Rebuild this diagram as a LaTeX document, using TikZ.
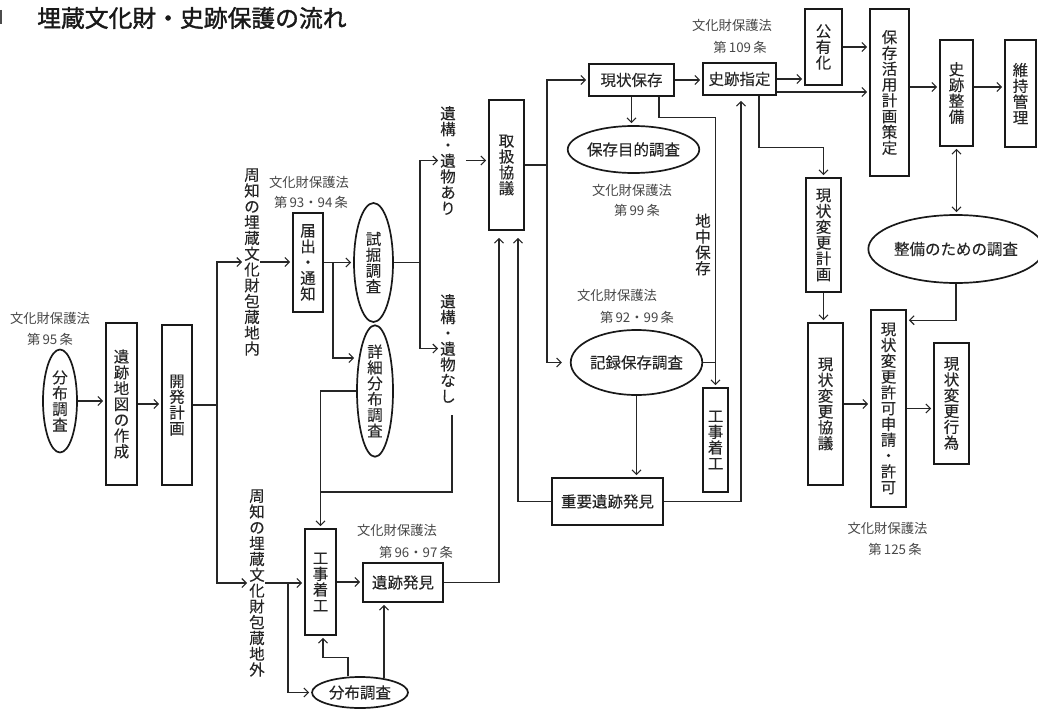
\documentclass[tikz,border=0pt]{standalone}
\usepackage{fontspec}
\usetikzlibrary{shapes.geometric,arrows.meta,calc}
\newfontfamily\cjk[FakeBold=0.12]{Noto Sans CJK JP}
\newfontfamily\cjkl{Noto Sans CJK JP}
\newfontfamily\cjkb[FakeBold=1.5]{Noto Sans CJK JP}
\makeatletter
\def\vt@end{\vt@end@}
\def\vt#1{\vbox{\baselineskip=15.8pt\lineskiplimit=-20pt\lineskip=0pt\vt@loop#1\vt@end}}
\def\vt@loop#1{\ifx\vt@end#1\else\hbox to 1em{\hss#1\hss}\expandafter\vt@loop\fi}
\makeatother
\begin{document}
\begin{tikzpicture}[x=1pt,y=-1pt,
  box/.style={draw=black!90, line width=1.7pt, rectangle, inner sep=0pt, font=\cjk\fontsize{15.5}{15.8}\selectfont, text=black!85},
  ell/.style={draw=black!90, line width=1.7pt, ellipse, inner sep=0pt, font=\cjk\fontsize{15.5}{15.8}\selectfont, text=black!85},
  lab/.style={inner sep=0pt, font=\cjk\fontsize{15.5}{15.8}\selectfont, text=black!85},
  law/.style={inner sep=0pt, font=\cjkl\fontsize{13.3}{14}\selectfont, text=black!72},
  ln/.style={draw=black!85, line width=1.1pt},
  arr/.style={ln, -{Straight Barb[length=4.5pt,width=9pt]}, shorten >=2pt},
  darr/.style={ln, {Straight Barb[length=4.5pt,width=9pt]}-{Straight Barb[length=4.5pt,width=9pt]}, shorten >=2pt, shorten <=2pt}]
\useasboundingbox (0,0) rectangle (1038,709);

% title
\draw[line width=1.3pt, black!70] (1,10) -- (1,24);
\node[lab, anchor=west, font=\cjkb\fontsize{23.8}{25}\selectfont, text=black!90] (title) at (37,18) {埋蔵文化財・史跡保護の流れ};

% law labels
\node[law] (l1a) at (50,318) {文化財保護法};
\node[law] (l1b) at (50,339) {第\,95\,条};
\node[law] (l2a) at (309,182) {文化財保護法};
\node[law] (l2b) at (311,202) {第\,93・94\,条};
\node[law] (l3a) at (397,530) {文化財保護法};
\node[law] (l3b) at (416,552) {第\,96・97\,条};
\node[law] (l4a) at (632,190) {文化財保護法};
\node[law] (l4b) at (637,210) {第\,99\,条};
\node[law] (l5a) at (617,295) {文化財保護法};
\node[law] (l5b) at (637,317) {第\,92・99\,条};
\node[law] (l6a) at (732,25) {文化財保護法};
\node[law] (l6b) at (740,47) {第\,109\,条};
\node[law] (l7a) at (887.5,528) {文化財保護法};
\node[law] (l7b) at (895,549) {第\,125\,条};

% left column
\node[ell, minimum width=34pt, minimum height=103pt] (e1) at (60,401) {\vt{分布調査}};
\node[box, minimum width=31pt, minimum height=162pt] (b1) at (121.5,404) {\vt{遺跡地図の作成}};
\node[box, minimum width=30pt, minimum height=160pt] (b2) at (177,405) {\vt{開発計画}};
\node[lab] (tin) at (252,262) {\vt{周知の埋蔵文化財包蔵地内}};
\node[lab] (tout) at (257,583) {\vt{周知の埋蔵文化財包蔵地外}};
\node[box, minimum width=30pt, minimum height=99pt] (b3) at (308,262.5) {\vt{届出・通知}};
\node[ell, minimum width=39pt, minimum height=119pt] (e2) at (373.5,262.5) {\vt{試掘調査}};
\node[ell, minimum width=36pt, minimum height=128pt] (e3) at (375,391) {\vt{詳細分布調査}};
\node[lab] (tari) at (448,160.5) {\vt{遺構・遺物あり}};
\node[lab] (tnashi) at (448,348.5) {\vt{遺構・遺物なし}};
\node[box, minimum width=35pt, minimum height=130pt] (b5) at (506.5,165) {\vt{取扱協議}};
\node[box, minimum width=31pt, minimum height=106pt] (b4) at (320.5,582) {\vt{工事着工}};
\node[ell, minimum width=96pt, minimum height=31pt] (e4) at (360,692.5) {分布調査};
\node[box, minimum width=80pt, minimum height=39pt] (b6) at (403,582.5) {遺跡発見};

% middle
\node[box, minimum width=85pt, minimum height=32pt] (b8) at (631.5,80) {現状保存};
\node[ell, minimum width=125pt, minimum height=47pt] (e6) at (633.5,149.5) {保存目的調査};
\node[lab] (tchichu) at (703,244.5) {\vt{地中保存}};
\node[ell, minimum width=113pt, minimum height=65pt] (e5) at (636.5,362.5) {記録保存調査};
\node[box, minimum width=25pt, minimum height=104pt] (b10) at (715.5,440) {\vt{工事着工}};
\node[box, minimum width=111pt, minimum height=47pt] (b7) at (607.5,501.5) {重要遺跡発見};

% right
\node[box, minimum width=73pt, minimum height=32pt] (b9) at (739.5,79) {史跡指定};
\node[box, minimum width=37pt, minimum height=76pt] (b11) at (823.5,47) {\vt{公有化}};
\node[box, minimum width=39pt, minimum height=167pt] (b12) at (889.5,92.5) {\vt{保存活用計画策定}};
\node[box, minimum width=33pt, minimum height=106pt] (b13) at (956.5,93) {\vt{史跡整備}};
\node[box, minimum width=31pt, minimum height=107pt] (b14) at (1020.5,93.5) {\vt{維持管理}};
\node[ell, minimum width=156pt, minimum height=68pt] (e7) at (956,249) {整備のための調査};
\node[box, minimum width=35pt, minimum height=114pt] (b15) at (823.5,235) {\vt{現状変更計画}};
\node[box, minimum width=35pt, minimum height=162pt] (b16) at (825.5,404) {\vt{現状変更協議}};
\node[box, minimum width=35pt, minimum height=197pt] (b17) at (888.5,408.5) {\vt{現状変更許可申請・許可}};
\node[box, minimum width=35pt, minimum height=121pt] (b18) at (951.5,403.5) {\vt{現状変更行為}};

% connectors left
\draw[arr] (e1.east) -- (e1.east -| b1.west);
\draw[arr] (b1.east) -- (b1.east -| b2.west);
\coordinate (j1) at (217,405);
\draw[ln] (b2.east) -- (j1);
\draw[arr] (j1) |- (tin.west);
\draw[arr] (j1) |- (tout.west);
\draw[arr] (tin.east) -- (tin.east -| b3.west);
\coordinate (j3) at (333,262.5);
\draw[arr] (b3.east) -- (e2.west);
\draw[arr] (j3) |- ([yshift=33pt]e3.west);
\coordinate (j4) at (420,262.5);
\draw[ln] (e2.east) -- (j4);
\draw[arr] (j4) |- (tari.west);
\draw[arr] (j4) |- (tnashi.west);
\draw[arr, shorten <=10pt] (tari.east) -- (tari.east -| b5.west);
\coordinate (j5) at (320.5,492);
\draw[ln, shorten <=12pt] ([xshift=4pt]tnashi.south) |- (j5);
\draw[arr] (e3.west) -| (b4.north);
\draw[arr] (tout.east) -- (tout.east -| b4.west);
\coordinate (j6) at (288,583);
\draw[arr] (j6) |- (e4.west);
\draw[arr] ([xshift=-12pt]e4.north) -- ++(0,-19) -| ([xshift=2.5pt]b4.south);
\draw[arr] ([xshift=24pt,yshift=-2pt]e4.north) -- ([xshift=24pt]e4.north |- b6.south);
\draw[arr] (b4.east) -- (b4.east -| b6.west);
\draw[arr, shorten >=7pt] (b6.east) -| ([xshift=-7.5pt]b5.south);
\draw[arr, shorten >=7pt] (b7.west) -| ([xshift=11.5pt]b5.south);

% connectors middle
\coordinate (j7) at (547,165);
\draw[ln] (b5.east) -- (j7);
\draw[arr] (j7) |- (b8.west);
\draw[arr, shorten >=8pt] (j7) |- (e5.west);
\draw[arr] (b8.east) -- (b8.east -| b9.west);
\draw[arr] (b8.south) -- (b8.south |- e6.north);
\draw[arr] ([xshift=27.5pt]b8.south) -- ++(0,21) -| (b10.north);
\draw[ln] (e5.east) -- (e5.east -| b10.north);
\draw[arr] (e5.south) -- (e5.south |- b7.north);
\draw[arr, shorten >=5pt] (b7.east) -| ([xshift=1.5pt]b9.south);

% connectors right
\draw[arr] (b9.east) -- (b9.east -| b11.west);
\draw[arr] ([yshift=-13pt]b9.east) -- ([yshift=-13pt]b9.east -| b12.west);
\draw[arr] (b11.east) -- (b11.east -| b12.west);
\draw[arr] ([yshift=5.5pt]b12.east) -- ([yshift=5.5pt]b12.east -| b13.west);
\draw[arr] ([yshift=6pt]b13.east) -- ([yshift=6pt]b13.east -| b14.west);
\draw[darr] (b13.south) -- (b13.south |- e7.north);
\draw[arr] ([xshift=19.5pt]b9.south) -- ++(0,52) -| (b15.north);
\draw[arr] (b15.south) -- (b15.south |- b16.north);
\draw[arr] (b16.east) -- (b16.east -| b17.west);
\draw[arr] (b17.east) -- (b17.east -| b18.west);
\draw[arr] (e7.south) |- ([yshift=-11pt]b17.north east);
\end{tikzpicture}
\end{document}
